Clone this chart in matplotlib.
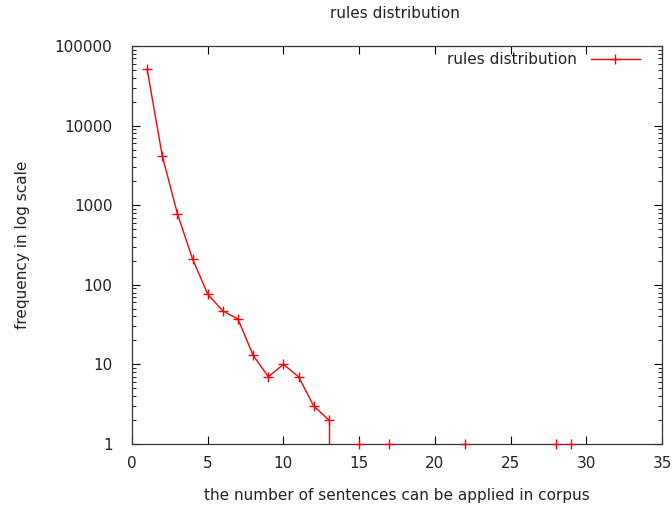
import matplotlib
matplotlib.use("Agg")
import matplotlib.pyplot as plt
from matplotlib.ticker import LogLocator, FixedLocator, FormatStrFormatter

plt.rcParams["font.family"] = ["DejaVu Sans"]

# sentences a rule applies to -> number of rules
x_vals = [1, 2, 3, 4, 5, 6, 7, 8, 9, 10, 11, 12, 13]
freq = [51000, 4150, 780, 211, 76, 47, 37, 13, 7, 10, 7, 3, 2]
# rules seen only once (they sit on the bottom border)
x_once = [15, 17, 22, 28, 29]
freq_once = [1, 1, 1, 1, 1]

x_ticks = [0, 5, 10, 15, 20, 25, 30, 35]
y_ticks = [1, 10, 100, 1000, 10000, 100000]
TXT = "#222222"
FS = 11

fig = plt.figure(figsize=(6.72, 5.08), dpi=100)
ax = fig.add_axes([132 / 672, 1 - 444 / 508, 530 / 672, 398 / 508])

ax.plot(x_vals, freq, color="red", linewidth=1.0, marker="+", markersize=6.5,
        markeredgewidth=1.0, label="rules distribution", zorder=2)
# the curve drops straight to the border after x=13
ax.plot([x_vals[-1], x_vals[-1]], [freq[-1], 1], color="red", linewidth=1.0, zorder=2)
ax.plot(x_once, freq_once, color="red", linestyle="none", marker="+", markersize=6.5,
        markeredgewidth=1.0, clip_on=False, zorder=3)

ax.set_yscale("log")
ax.set_xlim(0, 35)
ax.set_ylim(1, 100000)
ax.xaxis.set_major_locator(FixedLocator(x_ticks))
ax.yaxis.set_major_locator(FixedLocator(y_ticks))
ax.yaxis.set_major_formatter(FormatStrFormatter("%d"))
ax.yaxis.set_minor_locator(LogLocator(base=10, subs=range(2, 10)))
ax.yaxis.set_minor_formatter(plt.NullFormatter())

ax.tick_params(which="both", direction="in", top=True, right=True,
               labelsize=FS, labelcolor=TXT)
ax.tick_params(axis="y", pad=14)
ax.tick_params(axis="x", pad=9)
ax.tick_params(which="major", length=6, width=0.8)
ax.tick_params(which="minor", length=3, width=0.6)
for s in ax.spines.values():
    s.set_linewidth(0.9)
    s.set_color("#333333")

ax.set_xlabel("the number of sentences can be applied in corpus",
              fontsize=FS, color=TXT, labelpad=12)
ax.set_ylabel("frequency in log scale", fontsize=FS, color=TXT, labelpad=18)
fig.text(395 / 672, 1 - 14 / 508, "rules distribution", ha="center", va="center",
         fontsize=FS, color=TXT)

leg = ax.legend(loc="upper right", bbox_to_anchor=(0.958, 0.984), frameon=False,
                fontsize=FS, markerfirst=False, handlelength=3.2,
                borderaxespad=0, handletextpad=0.9, borderpad=0)
for t in leg.get_texts():
    t.set_color(TXT)

fig.savefig("out.png", dpi=100)
